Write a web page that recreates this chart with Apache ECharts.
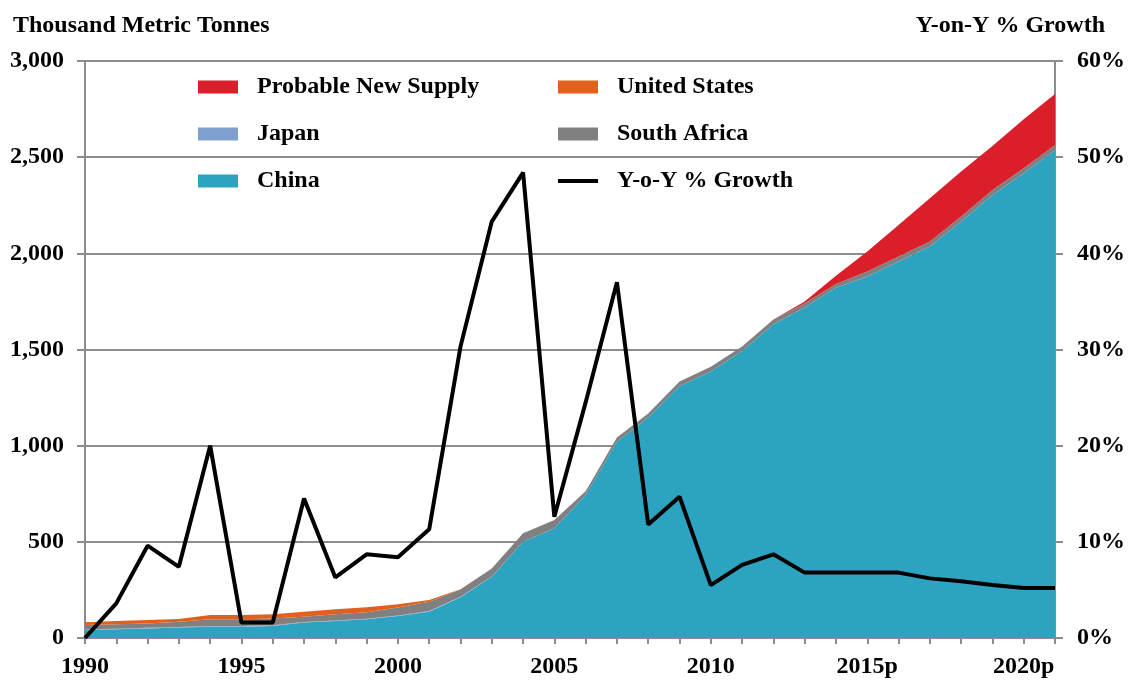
<!DOCTYPE html>
<html>
<head>
<meta charset="utf-8">
<script src="https://cdn.jsdelivr.net/npm/echarts@6/dist/echarts.min.js"></script>
<style>html,body{margin:0;padding:0;background:#fff}#c{width:1128px;height:682px}</style>
</head>
<body>
<div id="c"></div>
<script>
const years = ['1990','1991','1992','1993','1994','1995','1996','1997','1998','1999','2000','2001','2002','2003','2004','2005','2006','2007','2008','2009','2010','2011','2012','2013p','2014p','2015p','2016p','2017p','2018p','2019p','2020p','2021p'];
const china =        [42,45,50,54,59,59,63,80,88,97,114,137,212,319,501,570,743,1021,1147,1310,1385,1492,1631,1719,1821,1879,1957,2035,2165,2303,2416,2537];
const japan =        [3,3,3,3,3,3,3,3,3,3,3,3,2,1,0,0,0,0,0,0,0,0,0,0,0,0,0,0,0,0,0,0];
const southAfrica =  [23,23,23,28,35,35,35,28,32,34,41,49,38,42,43,43,20,22,20,24,25,24,25,22,20,26,26,26,26,26,26,26];
const unitedStates = [14,17,18,14,23,23,22,26,26,26,17,9,2,0,0,0,0,0,0,0,0,0,0,0,0,0,0,0,0,0,0,0];
const probableNew =  [0,0,0,0,0,0,0,0,0,0,0,0,0,0,0,0,0,0,0,0,0,0,0,9,42,104,164,225,234,229,255,266];
const yoyGrowth =    [0,3.6,9.6,7.4,20,1.6,1.6,14.5,6.3,8.7,8.4,11.3,30.3,43.3,48.4,12.6,24.5,37,11.8,14.7,5.5,7.6,8.7,6.8,6.8,6.8,6.8,6.2,5.9,5.5,5.2,5.2];
const leftTicks = [0,500,1000,1500,2000,2500,3000];

const FONT = '"Liberation Serif","Times New Roman",serif';
const FS = 24;
const GRID = '#8c8c8c';
const chart = echarts.init(document.getElementById('c'), null, {renderer:'canvas'});

function area(name, data, color){
  return {name, type:'line', stack:'total', data, symbol:'none', showSymbol:false,
    lineStyle:{width:0}, areaStyle:{color, opacity:1}, itemStyle:{color}, z:2};
}
const legendText = {fontFamily:FONT, fontWeight:'bold', fontSize:FS, color:'#000', padding:[0,0,0,14]};
const lineIcon = 'path://M0,0L40,0L40,4L0,4Z';
chart.setOption({
  animation:false,
  backgroundColor:'#fff',
  title:[
    {text:'Thousand Metric Tonnes', left:8, top:9, textStyle:{fontFamily:FONT, fontWeight:'bold', fontSize:FS, color:'#000'}},
    {text:'Y-on-Y % Growth', right:18, top:9, textStyle:{fontFamily:FONT, fontWeight:'bold', fontSize:FS, color:'#000'}}
  ],
  legend:[
    {left:193, top:70, orient:'vertical', itemGap:23, itemWidth:40, itemHeight:13, textStyle:legendText,
     data:[{name:'Probable New Supply', icon:'rect'},{name:'Japan', icon:'rect'},{name:'China', icon:'rect'}]},
    {left:553, top:70, orient:'vertical', itemGap:23, itemWidth:40, itemHeight:13, textStyle:legendText,
     data:[{name:'United States', icon:'rect'},{name:'South Africa', icon:'rect'},{name:'Y-o-Y % Growth', icon:lineIcon}]}
  ],
  grid:{left:85, right:72, top:61, bottom:44, containLabel:false},
  xAxis:{type:'category', data:years, boundaryGap:false,
    axisLine:{lineStyle:{color:GRID, width:2}},
    axisTick:{interval:0, length:6, lineStyle:{color:GRID, width:2}},
    axisLabel:{interval:4, margin:17, fontFamily:FONT, fontWeight:'bold', fontSize:FS, color:'#000'},
    splitLine:{show:false}},
  yAxis:[
    {type:'value', min:leftTicks[0], max:leftTicks[leftTicks.length-1], interval:500,
     axisLine:{show:true, lineStyle:{color:GRID, width:2}},
     axisTick:{show:true, length:8, lineStyle:{color:GRID, width:2}},
     axisLabel:{margin:21, fontFamily:FONT, fontWeight:'bold', fontSize:FS, color:'#000',
       formatter:v=>v.toLocaleString('en-US')},
     splitLine:{show:true, lineStyle:{color:GRID, width:2}}},
    {type:'value', min:0, max:60, interval:10, position:'right',
     axisLine:{show:true, lineStyle:{color:GRID, width:2}},
     axisTick:{show:true, length:8, lineStyle:{color:GRID, width:2}},
     axisLabel:{margin:22, fontFamily:FONT, fontWeight:'bold', fontSize:FS, color:'#000', formatter:'{value}%'},
     splitLine:{show:false}}
  ],
  series:[
    area('China', china, '#2ca3c0'),
    area('Japan', japan, '#7f9fd0'),
    area('South Africa', southAfrica, '#808080'),
    area('United States', unitedStates, '#e0601d'),
    area('Probable New Supply', probableNew, '#da1f2a'),
    {name:'Y-o-Y % Growth', type:'line', yAxisIndex:1, data:yoyGrowth, symbol:'none', showSymbol:false,
     lineStyle:{color:'#000', width:4}, itemStyle:{color:'#000'}, z:5}
  ]
});
</script>
</body>
</html>
